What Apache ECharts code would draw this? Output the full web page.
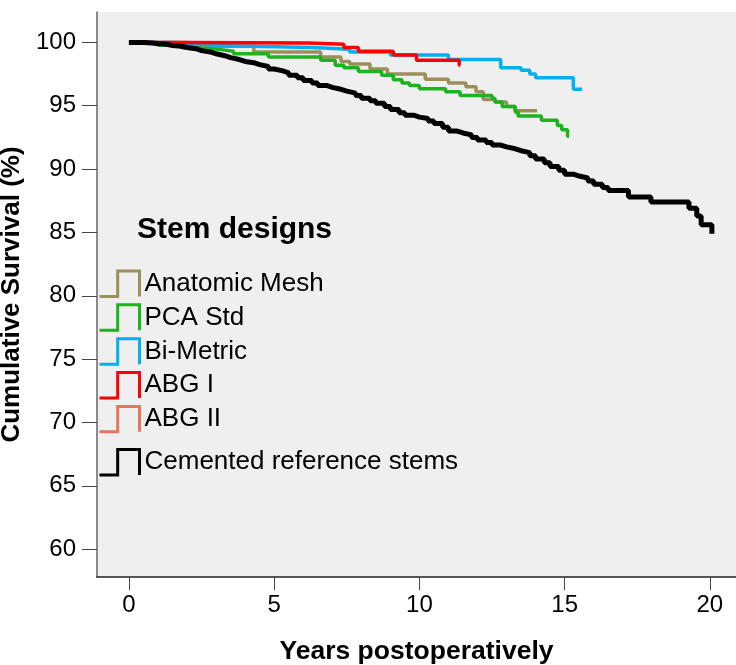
<!DOCTYPE html>
<html>
<head>
    <meta charset="utf-8">
    <title>Cumulative survival by stem design</title>
    <script src="https://cdn.jsdelivr.net/npm/echarts@6/dist/echarts.min.js"></script>
    <style>
        html, body {margin:0;padding:0;background:#fff}
        #chart {width:736px;height:665px}
    </style>
</head>
<body>
<div id="chart"></div>
<script>
    // survival curves, [years, cumulative survival %] at each drop
    var anatomicMesh = [[0,100],[2.0,99.7],[4.3,99.25],[6.6,98.85],[7.3,98.5],[7.6,98.3],[8.3,97.9],[8.9,97.5],[10.2,97.1],[11.0,96.8],[11.6,96.5],[11.95,96.1],[12.2,95.5],[12.6,95.3],[13.0,94.95],[13.3,94.6],[14.05,94.6]];
    var pcaStd = [[0,100],[1.0,99.8],[1.8,99.6],[2.2,99.45],[3.1,99.3],[3.6,99.1],[4.8,98.85],[6.6,98.6],[7.1,98.2],[7.4,98.0],[7.9,97.7],[8.7,97.4],[9.1,97.05],[9.4,96.8],[9.66,96.6],[10.0,96.35],[10.9,96.1],[11.4,95.8],[12.5,95.6],[12.6,95.3],[12.85,94.95],[13.3,94.5],[13.4,94.2],[14.2,93.85],[14.75,93.45],[14.9,93.1],[15.1,92.6],[15.15,92.6]];
    var biMetric = [[0,100],[1.5,99.9],[2.4,99.75],[3.0,99.6],[6.3,99.45],[7.6,99.25],[9.0,99.0],[11.0,98.65],[12.8,98.0],[13.5,97.8],[13.8,97.5],[14.0,97.2],[15.3,96.3],[15.6,96.3]];
    var abgI = [[0,100],[2.0,99.95],[6.2,99.85],[7.4,99.6],[7.9,99.3],[9.1,99.0],[9.9,98.6],[11.37,98.2],[11.4,98.2]];
    var abgII = [[0,100],[0.5,99.9],[2.5,99.85]];
    var cemented = [[0,100],[0.5,99.95],[0.8,99.9],[1.0,99.85],[1.3,99.75],[1.5,99.7],[1.8,99.6],[2.0,99.5],[2.3,99.35],[2.5,99.25],[2.8,99.1],[3.0,98.95],[3.3,98.8],[3.5,98.65],[3.8,98.5],[4.0,98.4],[4.3,98.25],[4.5,98.1],[4.8,97.9],[5.0,97.75],[5.3,97.6],[5.5,97.4],[5.8,97.2],[6.0,97.0],[6.3,96.8],[6.5,96.6],[6.8,96.45],[7.0,96.3],[7.3,96.15],[7.5,96.0],[7.8,95.8],[8.0,95.6],[8.3,95.4],[8.5,95.2],[8.8,94.95],[9.0,94.7],[9.3,94.45],[9.5,94.25],[9.8,94.1],[10.0,94.0],[10.3,93.8],[10.5,93.6],[10.8,93.3],[11.0,93.0],[11.3,92.85],[11.5,92.7],[11.8,92.5],[12.0,92.3],[12.3,92.1],[12.5,91.9],[12.8,91.75],[13.0,91.6],[13.3,91.45],[13.5,91.3],[13.8,91.05],[14.0,90.8],[14.3,90.5],[14.5,90.2],[14.8,89.9],[15.0,89.6],[15.3,89.45],[15.5,89.3],[15.8,89.05],[16.0,88.8],[16.3,88.55],[16.5,88.3],[17.2,87.8],[17.97,87.4],[19.28,86.9],[19.55,86.3],[19.7,85.6],[20.07,84.9]];

    var xTicks = [0, 5, 10, 15, 20];
    var yTicks = [60, 65, 70, 75, 80, 85, 90, 95, 100];

    var font = 'Liberation Sans, Arial, sans-serif';
    var stepIcon = 'path://M0,28 L20,28 L20,0 L44,0 L44,28';

    function legendItem(name, color) {
        return {name: name, icon: stepIcon, itemStyle: {color: 'none', borderColor: color, borderWidth: 3}};
    }

    function curve(name, data, color, width) {
        return {
            name: name,
            type: 'line',
            step: 'end',
            showSymbol: false,
            symbol: 'none',
            data: data,
            color: color,
            lineStyle: {color: color, width: width},
            animation: false
        };
    }

    var chart = echarts.init(document.getElementById('chart'));
    var option = {
        backgroundColor: '#fff',
        animation: false,
        title: {
            text: 'Stem designs',
            left: 137,
            top: 215,
            padding: 0,
            textStyle: {fontFamily: font, fontSize: 30, fontWeight: 'bold', color: '#000'}
        },
        legend: [{
            orient: 'vertical',
            left: 97,
            top: 268.5,
            padding: 0,
            itemWidth: 40,
            itemHeight: 28,
            itemGap: 3.4,
            selectedMode: false,
            textStyle: {fontFamily: font, fontSize: 26, lineHeight: 28, color: '#000'},
            data: [
                legendItem('Anatomic Mesh', '#9c8f5c'),
                legendItem('PCA Std', '#1db31d'),
                legendItem('Bi-Metric', '#00b0f0'),
                legendItem('ABG I', '#ff0000'),
                legendItem('ABG II', '#e8735f')
            ]
        }, {
            orient: 'vertical',
            left: 97,
            top: 447,
            padding: 0,
            itemWidth: 40,
            itemHeight: 28,
            selectedMode: false,
            textStyle: {fontFamily: font, fontSize: 26, lineHeight: 28, color: '#000'},
            data: [legendItem('Cemented reference stems', '#000000')]
        }],
        grid: {
            left: 97,
            right: 0,
            top: 12,
            bottom: 88,
            outerBoundsMode: 'none',
            show: true,
            backgroundColor: '#efefef',
            borderWidth: 0
        },
        xAxis: {
            type: 'value',
            min: -1.1,
            max: 20.9,
            name: 'Years postoperatively',
            nameLocation: 'middle',
            nameGap: 61,
            nameTextStyle: {fontFamily: font, fontSize: 26.5, fontWeight: 'bold', color: '#000'},
            axisLine: {show: true, onZero: false, lineStyle: {color: '#222', width: 1.5}},
            axisTick: {show: true, customValues: xTicks, length: 13, lineStyle: {color: '#444', width: 1}},
            axisLabel: {customValues: xTicks, margin: 16, fontFamily: font, fontSize: 24, color: '#000'},
            splitLine: {show: false}
        },
        yAxis: {
            type: 'value',
            min: 57.8,
            max: 102.4,
            name: 'Cumulative Survival (%)',
            nameLocation: 'middle',
            nameGap: 57,
            nameTextStyle: {fontFamily: font, fontSize: 26, fontWeight: 'bold', color: '#000'},
            axisLine: {show: true, onZero: false, lineStyle: {color: '#666', width: 1.5}},
            axisTick: {show: true, customValues: yTicks, length: 15, lineStyle: {color: '#444', width: 1}},
            axisLabel: {customValues: yTicks, margin: 21, fontFamily: font, fontSize: 24, color: '#000'},
            splitLine: {show: false}
        },
        series: [
            curve('ABG II', abgII, '#e8735f', 3.5),
            curve('Anatomic Mesh', anatomicMesh, '#9c8f5c', 3.5),
            curve('PCA Std', pcaStd, '#1db31d', 3.5),
            curve('Bi-Metric', biMetric, '#00b0f0', 3.5),
            curve('ABG I', abgI, '#ff0000', 3.5),
            curve('Cemented reference stems', cemented, '#000000', 5)
        ]
    };
    chart.setOption(option);
</script>
</body>
</html>
